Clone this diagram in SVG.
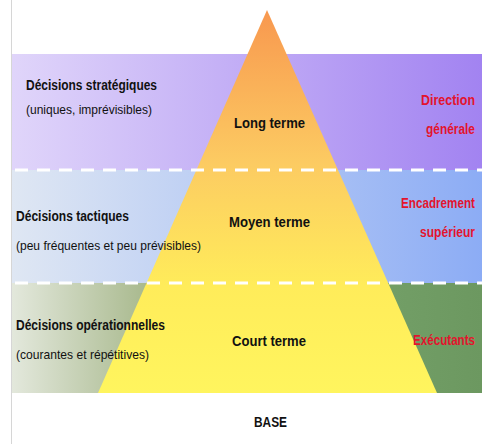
<svg xmlns="http://www.w3.org/2000/svg" width="482" height="444" viewBox="0 0 482 444">
  <defs>
    <linearGradient id="g1" x1="12" y1="0" x2="482" y2="0" gradientUnits="userSpaceOnUse">
      <stop offset="0" stop-color="#E0D5FA"/>
      <stop offset="1" stop-color="#A283F1"/>
    </linearGradient>
    <linearGradient id="g2" x1="12" y1="0" x2="482" y2="0" gradientUnits="userSpaceOnUse">
      <stop offset="0" stop-color="#DFE7F3"/>
      <stop offset="1" stop-color="#8CACF5"/>
    </linearGradient>
    <linearGradient id="g3" x1="12" y1="0" x2="482" y2="0" gradientUnits="userSpaceOnUse">
      <stop offset="0" stop-color="#E3E8DC"/>
      <stop offset="0.3" stop-color="#A6B78A"/>
      <stop offset="0.75" stop-color="#74A068"/>
      <stop offset="1" stop-color="#6C9860"/>
    </linearGradient>
    <linearGradient id="gt" x1="0" y1="10" x2="0" y2="393" gradientUnits="userSpaceOnUse">
      <stop offset="0" stop-color="#F8984F"/>
      <stop offset="0.4" stop-color="#FCCB62"/>
      <stop offset="0.72" stop-color="#FFEC5A"/>
      <stop offset="1" stop-color="#FFF55E"/>
    </linearGradient>
  </defs>
  <style>
    text { font-family: "Liberation Sans", Arial, sans-serif; }
    .h { font-size: 14px; font-weight: bold; fill: #111; }
    .s { font-size: 13px; fill: #111; }
    .c { font-size: 14px; font-weight: bold; fill: #111; text-anchor: middle; }
    .r { font-size: 14px; font-weight: bold; fill: #E3142D; text-anchor: end; }
    .dash { stroke: #FFFFFF; stroke-width: 3; stroke-dasharray: 13 9; fill: none; }
  </style>
  <rect x="0" y="0" width="482" height="444" fill="#FFFFFF"/>
  <line x1="11.5" y1="0" x2="11.5" y2="444" stroke="#D6D6D6" stroke-width="1"/>
  <g id="band-strategique">
    <rect x="12" y="54" width="470" height="116" fill="url(#g1)"/>
  </g>
  <g id="band-tactique">
    <rect x="12" y="170" width="470" height="113" fill="url(#g2)"/>
  </g>
  <g id="band-operationnel">
    <rect x="12" y="283" width="470" height="110" fill="url(#g3)"/>
  </g>
  <g id="pyramide">
    <polygon points="267,10 98,393 437,393" fill="url(#gt)"/>
  </g>
  <g id="separateurs">
    <line class="dash" x1="15" y1="170" x2="482" y2="170"/>
    <line class="dash" x1="15" y1="283" x2="482" y2="283"/>
  </g>
  <g id="niveau-strategique">
    <text class="h" x="26" y="90" textLength="131" lengthAdjust="spacingAndGlyphs">Décisions stratégiques</text>
    <text class="s" x="26" y="114" textLength="126" lengthAdjust="spacingAndGlyphs">(uniques, imprévisibles)</text>
    <text class="c" x="269.5" y="128" textLength="71" lengthAdjust="spacingAndGlyphs">Long terme</text>
    <g transform="translate(475 0) scale(0.85 1)">
      <text class="r" x="0" y="105" textLength="63.5" lengthAdjust="spacingAndGlyphs">Direction</text>
      <text class="r" x="0" y="134" textLength="57.6" lengthAdjust="spacingAndGlyphs">générale</text>
    </g>
  </g>
  <g id="niveau-tactique">
    <text class="h" x="16" y="221" textLength="113" lengthAdjust="spacingAndGlyphs">Décisions tactiques</text>
    <text class="s" x="16" y="250" textLength="185" lengthAdjust="spacingAndGlyphs">(peu fréquentes et peu prévisibles)</text>
    <text class="c" x="269.5" y="227" textLength="81" lengthAdjust="spacingAndGlyphs">Moyen terme</text>
    <g transform="translate(475 0) scale(0.85 1)">
      <text class="r" x="0" y="208" textLength="87" lengthAdjust="spacingAndGlyphs">Encadrement</text>
      <text class="r" x="0" y="237" textLength="64.7" lengthAdjust="spacingAndGlyphs">supérieur</text>
    </g>
  </g>
  <g id="niveau-operationnel">
    <text class="h" x="16" y="330" textLength="149" lengthAdjust="spacingAndGlyphs">Décisions opérationnelles</text>
    <text class="s" x="16" y="359" textLength="133" lengthAdjust="spacingAndGlyphs">(courantes et répétitives)</text>
    <text class="c" x="269" y="346" textLength="74" lengthAdjust="spacingAndGlyphs">Court terme</text>
    <g transform="translate(475 0) scale(0.85 1)">
      <text class="r" x="0" y="345" textLength="72.9" lengthAdjust="spacingAndGlyphs">Exécutants</text>
    </g>
  </g>
  <g id="base">
    <text class="c" x="270.5" y="427" textLength="33" lengthAdjust="spacingAndGlyphs">BASE</text>
  </g>
</svg>
